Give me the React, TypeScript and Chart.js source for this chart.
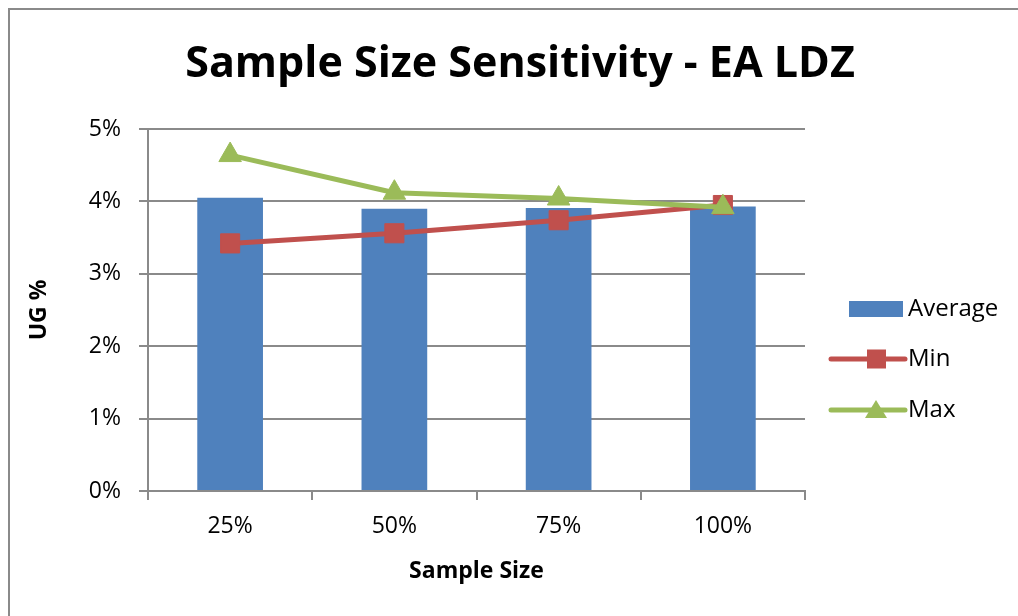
import React, { useEffect, useRef } from 'react';
import { Chart, registerables } from 'chart.js';

Chart.register(...registerables);

// Sample size categories and the UG % results for each
const categories = ['25%', '50%', '75%', '100%'];
const averageValues = [4.05, 3.9, 3.91, 3.93];
const minValues = [3.42, 3.56, 3.74, 3.95];
const maxValues = [4.64, 4.12, 4.04, 3.92];
const yTickMax = 5;
const yTickStep = 1;

const chartTitle = 'Sample Size Sensitivity - EA LDZ';
const xTitle = 'Sample Size';
const yTitle = 'UG %';

const FONT = '"Open Sans", "Liberation Sans", sans-serif';
const BLUE = '#4F81BD';
const RED = '#C0504D';
const GREEN = '#9BBB59';
const AXIS_GREY = '#8A8A8A';

// Title drawn centred above the plot
const titlePlugin = {
  id: 'centerTitle',
  afterDraw(chart: any) {
    const ctx = chart.ctx;
    ctx.save();
    ctx.font = `bold 43px ${FONT}`;
    ctx.fillStyle = '#000';
    ctx.textAlign = 'center';
    ctx.textBaseline = 'middle';
    ctx.fillText(chartTitle, 510, 55);
    ctx.restore();
  },
};

// Legend on the right: box for the bars, line + marker for the series
const legendPlugin = {
  id: 'sideLegend',
  afterDraw(chart: any) {
    const ctx = chart.ctx;
    const ds = chart.data.datasets;
    const textX = 898;
    const rows = [299, 349, 400];
    ctx.save();
    ctx.font = `24px ${FONT}`;
    ctx.textBaseline = 'middle';
    ctx.textAlign = 'left';

    // Average
    ctx.fillStyle = ds[0].backgroundColor;
    ctx.fillRect(839, rows[0] - 8, 54, 16);
    ctx.fillStyle = '#000';
    ctx.fillText(ds[0].label, textX, rows[0]);

    // Min
    ctx.strokeStyle = ds[1].borderColor;
    ctx.lineWidth = 5;
    ctx.lineCap = 'round';
    ctx.beginPath();
    ctx.moveTo(821, rows[1]);
    ctx.lineTo(895, rows[1]);
    ctx.stroke();
    ctx.fillStyle = ds[1].pointBackgroundColor;
    ctx.fillRect(857, rows[1] - 9.5, 19, 19);
    ctx.fillStyle = '#000';
    ctx.fillText(ds[1].label, textX, rows[1]);

    // Max
    ctx.strokeStyle = ds[2].borderColor;
    ctx.beginPath();
    ctx.moveTo(821, rows[2]);
    ctx.lineTo(895, rows[2]);
    ctx.stroke();
    ctx.fillStyle = ds[2].pointBackgroundColor;
    ctx.beginPath();
    ctx.moveTo(866, rows[2] - 10);
    ctx.lineTo(877, rows[2] + 8);
    ctx.lineTo(855, rows[2] + 8);
    ctx.closePath();
    ctx.fill();
    ctx.fillStyle = '#000';
    ctx.fillText(ds[2].label, textX, rows[2]);
    ctx.restore();
  },
};

export default function App() {
  const canvasRef = useRef<HTMLCanvasElement | null>(null);

  useEffect(() => {
    document.body.style.margin = '0';
    document.body.style.overflow = 'hidden';
    if (!canvasRef.current) return;
    const chart = new Chart(canvasRef.current, {
      type: 'bar',
      data: {
        labels: categories,
        datasets: [
          {
            type: 'bar',
            label: 'Average',
            data: averageValues,
            backgroundColor: BLUE,
            borderWidth: 0,
            barPercentage: 0.4,
            categoryPercentage: 1,
            order: 3,
          },
          {
            type: 'line',
            label: 'Min',
            data: minValues,
            borderColor: RED,
            borderWidth: 5,
            borderCapStyle: 'round',
            borderJoinStyle: 'round',
            pointStyle: 'rect',
            pointRadius: 13.5,
            pointBackgroundColor: RED,
            pointBorderColor: RED,
            pointBorderWidth: 1,
            tension: 0,
            order: 2,
          },
          {
            type: 'line',
            label: 'Max',
            data: maxValues,
            borderColor: GREEN,
            borderWidth: 5,
            borderCapStyle: 'round',
            borderJoinStyle: 'round',
            pointStyle: 'triangle',
            pointRadius: 13,
            pointBackgroundColor: GREEN,
            pointBorderColor: GREEN,
            pointBorderWidth: 1,
            tension: 0,
            order: 1,
          },
        ],
      } as any,
      options: {
        animation: false,
        responsive: true,
        maintainAspectRatio: false,
        layout: { padding: { top: 119, right: 213, left: 0, bottom: 8 } },
        plugins: {
          legend: { display: false },
          title: { display: false },
          tooltip: { enabled: false },
        },
        scales: {
          x: {
            offset: true,
            afterFit(scale: any) {
              scale.height = 117;
            },
            grid: {
              offset: true,
              drawOnChartArea: false,
              drawTicks: true,
              tickLength: 9,
              color: AXIS_GREY,
              lineWidth: 2,
            },
            border: { display: true, color: AXIS_GREY, width: 2 },
            ticks: {
              color: '#000',
              padding: 13,
              font: { family: FONT, size: 23 },
            },
            title: {
              display: true,
              text: xTitle,
              color: '#000',
              font: { family: FONT, size: 23, weight: 'bold' },
              padding: { top: 0, bottom: 23 },
            },
          },
          y: {
            min: 0,
            max: yTickMax,
            afterFit(scale: any) {
              scale.width = 138;
            },
            ticks: {
              stepSize: yTickStep,
              color: '#000',
              padding: 18,
              font: { family: FONT, size: 23 },
              callback: (v: any) => `${v}%`,
            },
            grid: {
              color: AXIS_GREY,
              lineWidth: 2,
              drawTicks: true,
              tickLength: 9,
            },
            border: { display: true, color: AXIS_GREY, width: 2 },
            title: {
              display: true,
              text: yTitle,
              color: '#000',
              font: { family: FONT, size: 23, weight: 'bold' },
              padding: { top: 16, bottom: 0 },
            },
          },
        },
      } as any,
      plugins: [titlePlugin, legendPlugin],
    });
    return () => chart.destroy();
  }, []);

  return (
    <div
      style={{
        marginLeft: 8,
        marginTop: 8,
        width: 1010,
        height: 608,
        boxSizing: 'border-box',
        borderLeft: `2px solid ${AXIS_GREY}`,
        borderTop: `2px solid ${AXIS_GREY}`,
        background: '#fff',
        overflow: 'hidden',
      }}
    >
      <div style={{ position: 'relative', width: 1008, height: 606 }}>
        <canvas ref={canvasRef} />
      </div>
    </div>
  );
}
